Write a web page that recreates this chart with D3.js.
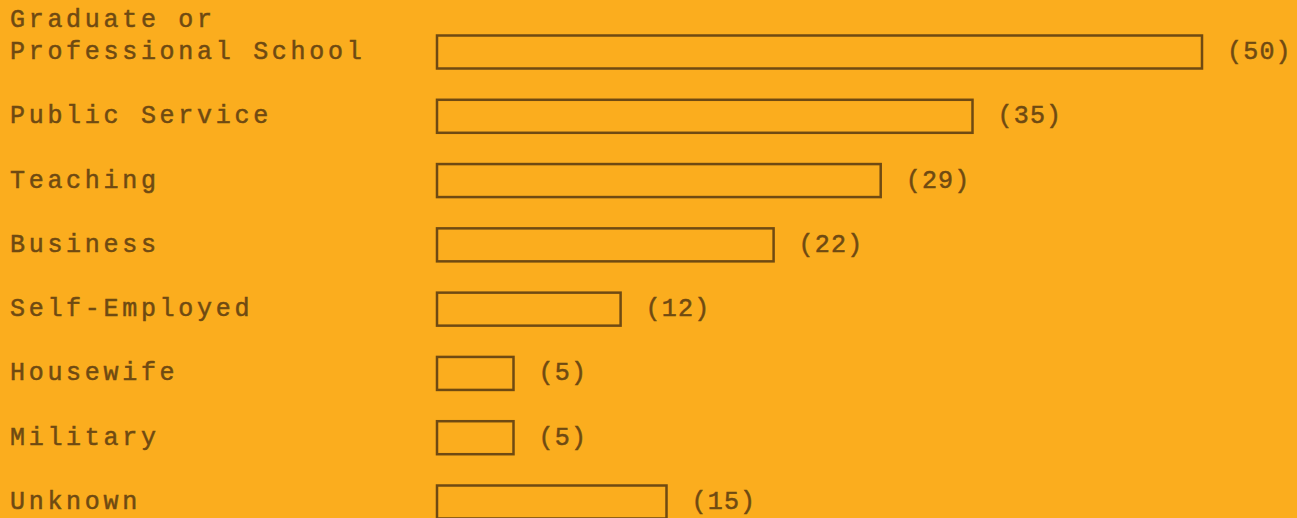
<!DOCTYPE html>
<html>
<head>
<meta charset="utf-8">
<script src="https://cdn.jsdelivr.net/npm/d3@7"></script>
<style>
  html, body { margin: 0; padding: 0; background: #fbad1e; }
  svg text { font-family: "Liberation Mono", "DejaVu Sans Mono", monospace; }
</style>
</head>
<body>
<div id="chart"></div>
<script>
var categories = ['Graduate or|Professional School', 'Public Service', 'Teaching', 'Business',
                  'Self-Employed', 'Housewife', 'Military', 'Unknown'];
var counts = [50, 35, 29, 22, 12, 5, 5, 15];
var valueLabels = ['(50)', '(35)', '(29)', '(22)', '(12)', '(5)', '(5)', '(15)'];

(function(){
  var width = 1297,
      height = 518;
  var ink = '#6f4a12';

  var svg = d3.select('#chart')
    .append('svg')
    .attr('width', width)
    .attr('height', height);

  svg.append('rect')
    .attr('width', width)
    .attr('height', height)
    .attr('fill', '#fbad1e');

  var rows = categories.map(function(c, i){
    return { name: c, value: counts[i], label: valueLabels[i] };
  });

  var x = d3.scaleLinear().domain([0, 50]).range([437, 1202]);
  var y = d3.scalePoint().domain(categories).range([52, 502]);
  var barH = 33;

  var g = svg.selectAll('.row')
    .data(rows)
    .enter().append('g')
    .attr('class', 'row');

  g.append('rect')
    .attr('x', x(0))
    .attr('y', function(d){ return y(d.name) - barH / 2 })
    .attr('width', function(d){ return x(d.value) - x(0) })
    .attr('height', barH)
    .attr('fill', 'none')
    .attr('stroke', ink)
    .attr('stroke-width', 2.5);

  // category names, typewriter style (two lines for the first one)
  g.each(function(d){
    var lines = d.name.split('|');
    var t = d3.select(this).append('text')
      .attr('x', 10)
      .attr('y', y(d.name) + 7 - (lines.length - 1) * 32)
      .attr('font-size', 25)
      .attr('letter-spacing', 3.7)
      .attr('fill', ink)
      .attr('stroke', ink)
      .attr('stroke-width', 0.5);
    lines.forEach(function(l, i){
      t.append('tspan')
        .attr('x', 10)
        .attr('dy', i === 0 ? 0 : 32)
        .text(l);
    });
  });

  g.append('text')
    .attr('x', function(d){ return x(d.value) + 25 })
    .attr('y', function(d){ return y(d.name) + 7 })
    .attr('font-size', 25)
    .attr('letter-spacing', 1.2)
    .attr('fill', ink)
    .attr('stroke', ink)
    .attr('stroke-width', 0.5)
    .text(function(d){ return d.label });
})()
</script>
</body>
</html>
